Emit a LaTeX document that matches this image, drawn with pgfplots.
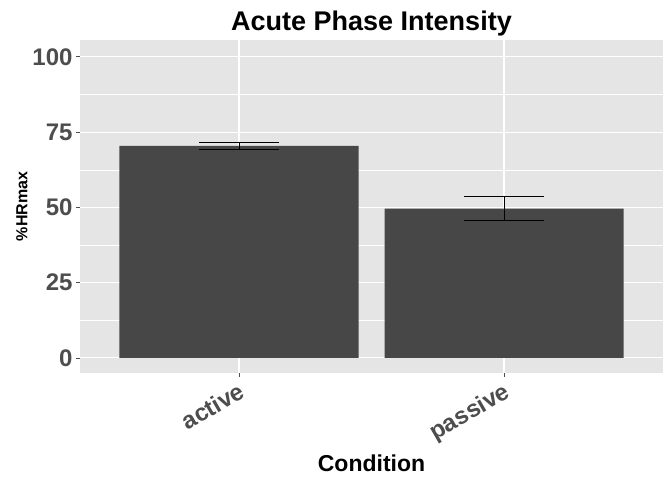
\documentclass[border=0pt]{standalone}
\usepackage{pgfplots}
\pgfplotsset{compat=1.18}
\usepackage{fontspec}
\setmainfont{Liberation Sans}
\definecolor{panel}{HTML}{E5E5E5}
\definecolor{tickc}{HTML}{4D4D4D}
\definecolor{barc}{HTML}{474747}
\begin{document}
\begin{tikzpicture}
\useasboundingbox (-80pt,-107pt) rectangle (592pt,373pt);
\begin{axis}[at={(0,0)},anchor=south west,
 scale only axis, width=583pt, height=333pt,
 xmin=0.4, xmax=2.6, ymin=-5, ymax=105.6,
 /pgf/number format/assume math mode=true,
 axis background/.style={fill=panel},
 axis line style={draw=none},
 xtick={1,2}, xticklabels={active,passive},
 ytick={0,25,50,75,100},
 minor ytick={12.5,37.5,62.5,87.5},
 grid=both,
 major grid style={white,line width=1.1pt},
 minor grid style={white,line width=0.5pt},
 tick style={tickc,line width=0.8pt},
 major tick length=4pt, minor tick length=0pt,
 tick align=outside, tick pos=left,
 xticklabel style={rotate=30,anchor=north east,font=\fontsize{24}{26}\selectfont\bfseries,text=tickc,inner sep=3pt},
 yticklabel style={font=\fontsize{24}{26}\selectfont\bfseries,text=tickc},
 title={\fontsize{27}{30}\selectfont\bfseries Acute Phase Intensity},
 title style={yshift=-6pt},
 xlabel={\fontsize{23}{26}\selectfont\bfseries Condition},
 xlabel style={yshift=-2pt},
 ylabel={\fontsize{16}{18}\selectfont\bfseries \%HRmax},
 ylabel style={yshift=-2pt},
]
\addplot[ybar, bar width=239pt, fill=barc, draw=none] coordinates {(1,70.4) (2,49.6)};
\addplot[draw=none, mark=none, forget plot,
 error bars/.cd, y dir=both, y explicit,
 error bar style={black,line width=0.8pt},
 error mark options={rotate=90,mark size=40pt,black,line width=0.8pt}]
 coordinates {(1,70.45) +- (0,1.05) (2,49.65) +- (0,3.85)};
\end{axis}
\end{tikzpicture}
\end{document}
